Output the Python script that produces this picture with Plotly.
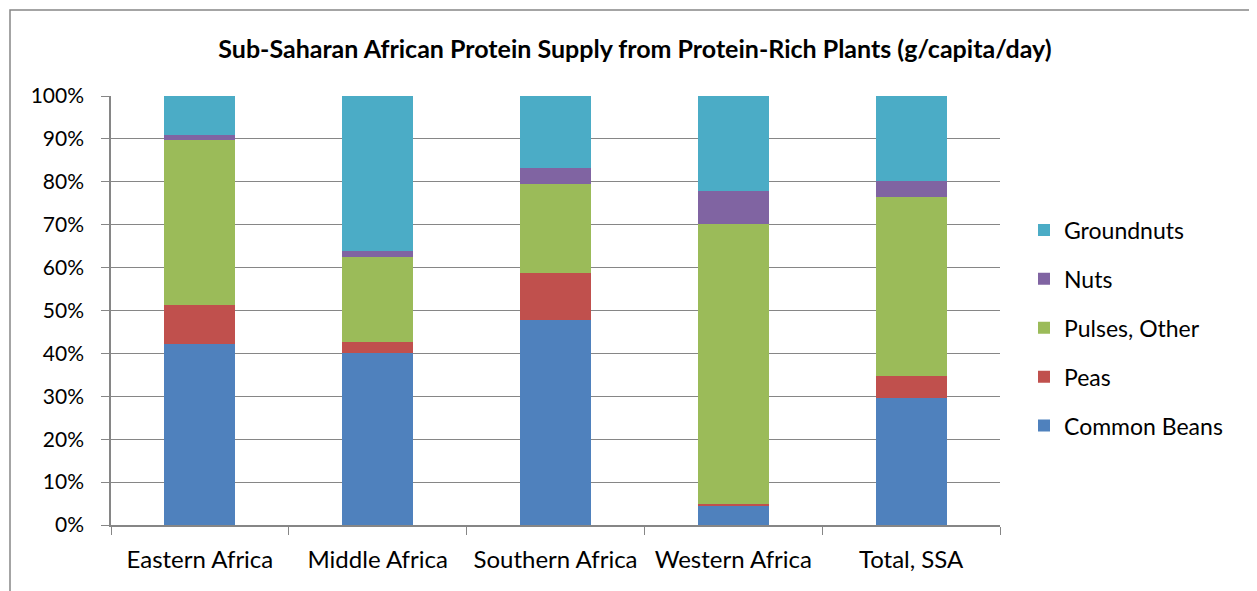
import plotly.graph_objects as go

categories = ["Eastern Africa", "Middle Africa", "Southern Africa", "Western Africa", "Total, SSA"]
common_beans = [42.3, 40.0, 47.7, 4.6, 29.7]
peas = [8.9, 2.6, 11.1, 0.4, 5.0]
pulses_other = [38.6, 19.9, 20.7, 65.2, 41.8]
nuts = [1.1, 1.4, 3.8, 7.6, 3.6]
groundnuts = [9.1, 36.1, 16.7, 22.2, 19.9]

series = [
    ("Common Beans", common_beans, "#4F81BD"),
    ("Peas", peas, "#C0504D"),
    ("Pulses, Other", pulses_other, "#9BBB59"),
    ("Nuts", nuts, "#8064A2"),
    ("Groundnuts", groundnuts, "#4BACC6"),
]

FONT = "Lato"
OFF = 8  # page body margin

fig = go.Figure()
n = len(series)
for i, (name, vals, color) in enumerate(series):
    fig.add_trace(go.Bar(
        x=categories, y=vals, name=name, legendgroup=name,
        legendrank=n - i,
        marker=dict(color=color, line=dict(width=0)),
        width=0.4,
    ))

W, H = 1257 - OFF, 591 - OFF
L, T = 111 - OFF, 96 - OFF
R = W - (1000 - OFF)
B = H - (525 - OFF)
pw, ph = W - L - R, H - T - B

fig.update_layout(
    width=W, height=H,
    barmode="stack",
    margin=dict(l=L, r=R, t=T, b=B, autoexpand=False),
    paper_bgcolor="white", plot_bgcolor="white",
    font=dict(family=FONT, size=22, color="black"),
    title=dict(
        text="<b>Sub-Saharan African Protein Supply from Protein-Rich Plants (g/capita/day)</b>",
        x=(635 - OFF) / W, xanchor="center", y=1 - (49 - OFF) / H, yanchor="middle",
        font=dict(family=FONT, size=25, color="black"),
    ),
    legend=dict(
        traceorder="grouped", tracegroupgap=16,
        x=(1024 - OFF - L) / pw, xanchor="left",
        y=(525 - 328) / ph, yanchor="middle",
        font=dict(family=FONT, size=23),
        bgcolor="rgba(0,0,0,0)",
    ),
    showlegend=True,
    xaxis=dict(
        showline=True, linecolor="#868686", linewidth=1.5,
        ticks="outside", tickson="boundaries", ticklen=8, tickcolor="#868686",
        ticklabelstandoff=12,
        tickfont=dict(family=FONT, size=24), showgrid=False,
    ),
    yaxis=dict(
        range=[0, 100], dtick=10, ticksuffix="%",
        showline=True, linecolor="#868686", linewidth=1.5,
        ticks="outside", ticklen=8, tickcolor="#868686",
        ticklabelstandoff=13,
        showgrid=True, gridcolor="#868686", gridwidth=1.2,
        tickfont=dict(family=FONT, size=21), zeroline=False,
    ),
    shapes=[dict(
        type="rect", xref="paper", yref="paper",
        x0=(10 - OFF - L) / pw, x1=(1262 - OFF - L) / pw,
        y0=-(B + 20) / ph, y1=1 + (T - (10 - OFF)) / ph,
        line=dict(color="#868686", width=1.5), fillcolor="rgba(0,0,0,0)", layer="below",
    )],
)

fig.write_html("out.html")
